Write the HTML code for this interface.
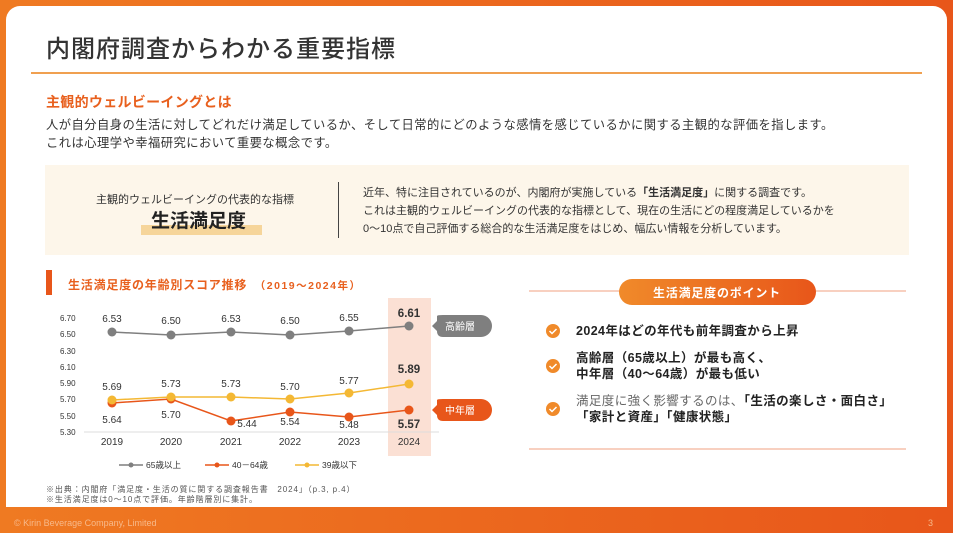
<!DOCTYPE html>
<html><head><meta charset="utf-8"><style>
*{margin:0;padding:0;box-sizing:border-box}
body{width:953px;height:533px;overflow:hidden;background:linear-gradient(90deg,#ef7a22,#e8561a);font-family:"Liberation Sans","Noto Sans CJK JP",sans-serif;position:relative}
.card{position:absolute;left:6px;top:6px;width:941px;height:501px;background:#fff;border-radius:14px 14px 0 0}
.a{position:absolute;white-space:nowrap}
</style></head><body>
<div class="card"></div>
<div class="a" style="left:46px;top:29px;font-size:24px;color:#333;font-weight:500;letter-spacing:1px">内閣府調査からわかる重要指標</div>
<div class="a" style="left:31px;top:72px;width:891px;height:2px;background:#f0a050"></div>
<div class="a" style="left:46px;top:92px;font-size:14px;color:#e8601e;font-weight:bold;letter-spacing:0.3px">主観的ウェルビーイングとは</div>
<div class="a" style="left:46px;top:116px;font-size:12.3px;color:#333;line-height:18px;letter-spacing:0.45px">人が自分自身の生活に対してどれだけ満足しているか、そして日常的にどのような感情を感じているかに関する主観的な評価を指します。<br>これは心理学や幸福研究において重要な概念です。</div>
<div class="a" style="left:45px;top:165px;width:864px;height:90px;background:#fdf6ea"></div>
<div class="a" style="left:96px;top:191px;font-size:11px;color:#333">主観的ウェルビーイングの代表的な指標</div>
<div class="a" style="left:141px;top:225px;width:121px;height:10px;background:#f6d59a"></div>
<div class="a" style="left:151px;top:206px;font-size:19px;font-weight:bold;color:#222">生活満足度</div>
<div class="a" style="left:338px;top:182px;width:1px;height:56px;background:#444"></div>
<div class="a" style="left:363px;top:184px;font-size:11px;color:#333;line-height:18px">近年、特に注目されているのが、内閣府が実施している<b>「生活満足度」</b>に関する調査です。<br>これは主観的ウェルビーイングの代表的な指標として、現在の生活にどの程度満足しているかを<br>0～10点で自己評価する総合的な生活満足度をはじめ、幅広い情報を分析しています。</div>
<div class="a" style="left:46px;top:270px;width:6px;height:25px;background:#e8561a"></div>
<div class="a" style="left:68px;top:276px;font-size:12px;color:#e8601e;font-weight:bold;letter-spacing:0.8px">生活満足度の年齢別スコア推移　<span style="font-size:10.5px;letter-spacing:1.5px">（2019～2024年）</span></div>
<svg class="a" style="left:0;top:0" width="953" height="533" font-family="Liberation Sans, Noto Sans CJK JP, sans-serif">
<rect x="388" y="298" width="43" height="158" fill="#fbe0d4"/>
<line x1="84" y1="432" x2="439" y2="432" stroke="#ddd"/>
<g font-size="8" fill="#333">
<text x="60" y="321">6.70</text><text x="60" y="337">6.50</text><text x="60" y="354">6.30</text><text x="60" y="370">6.10</text><text x="60" y="386">5.90</text><text x="60" y="402">5.70</text><text x="60" y="419">5.50</text><text x="60" y="435">5.30</text>
</g>
<g font-size="10" fill="#333" text-anchor="middle">
<text x="112" y="445">2019</text><text x="171" y="445">2020</text><text x="231" y="445">2021</text><text x="290" y="445">2022</text><text x="349" y="445">2023</text><text x="409" y="445">2024</text>
</g>
<polyline points="112,332 171,335 231,332 290,335 349,331 409,326" fill="none" stroke="#7f7f7f" stroke-width="1.5"/>
<g fill="#7f7f7f"><circle cx="112" cy="332" r="4.5"/><circle cx="171" cy="335" r="4.5"/><circle cx="231" cy="332" r="4.5"/><circle cx="290" cy="335" r="4.5"/><circle cx="349" cy="331" r="4.5"/><circle cx="409" cy="326" r="4.5"/></g>
<polyline points="112,403 171,399 231,421 290,412 349,417 409,410" fill="none" stroke="#e8561a" stroke-width="1.5"/>
<g fill="#e8561a"><circle cx="112" cy="403" r="4.5"/><circle cx="171" cy="399" r="4.5"/><circle cx="231" cy="421" r="4.5"/><circle cx="290" cy="412" r="4.5"/><circle cx="349" cy="417" r="4.5"/><circle cx="409" cy="410" r="4.5"/></g>
<polyline points="112,400 171,397 231,397 290,399 349,393 409,384" fill="none" stroke="#f4b834" stroke-width="1.5"/>
<g fill="#f4b834"><circle cx="112" cy="400" r="4.5"/><circle cx="171" cy="397" r="4.5"/><circle cx="231" cy="397" r="4.5"/><circle cx="290" cy="399" r="4.5"/><circle cx="349" cy="393" r="4.5"/><circle cx="409" cy="384" r="4.5"/></g>
<g font-size="10" fill="#333" text-anchor="middle">
<text x="112" y="322">6.53</text><text x="171" y="324">6.50</text><text x="231" y="322">6.53</text><text x="290" y="324">6.50</text><text x="349" y="321">6.55</text>
<text x="112" y="390">5.69</text><text x="171" y="387">5.73</text><text x="231" y="387">5.73</text><text x="290" y="390">5.70</text><text x="349" y="384">5.77</text>
<text x="112" y="423">5.64</text><text x="171" y="418">5.70</text><text x="247" y="427">5.44</text><text x="290" y="425">5.54</text><text x="349" y="428">5.48</text>
<g font-weight="bold" font-size="11.5"><text x="409" y="317">6.61</text><text x="409" y="373">5.89</text><text x="409" y="428">5.57</text></g>
</g>
<path d="M432,326 L437,321 L437,316 Q437,315 443,315 L481,315 A11,11 0 0 1 481,337 L443,337 Q437,337 437,331 Z" fill="#7f7f7f"/>
<text x="460" y="330" font-size="10" fill="#fff" text-anchor="middle">高齢層</text>
<path d="M432,410 L437,405 L437,400 Q437,399 443,399 L481,399 A11,11 0 0 1 481,421 L443,421 Q437,421 437,415 Z" fill="#e8561a"/>
<text x="460" y="414" font-size="10" fill="#fff" text-anchor="middle">中年層</text>
<g font-size="8.5" fill="#333">
<line x1="119" y1="465" x2="143" y2="465" stroke="#7f7f7f" stroke-width="1.5"/><circle cx="131" cy="465" r="2.5" fill="#7f7f7f"/><text x="146" y="468">65歳以上</text>
<line x1="205" y1="465" x2="229" y2="465" stroke="#e8561a" stroke-width="1.5"/><circle cx="217" cy="465" r="2.5" fill="#e8561a"/><text x="232" y="468">40－64歳</text>
<line x1="295" y1="465" x2="319" y2="465" stroke="#f4b834" stroke-width="1.5"/><circle cx="307" cy="465" r="2.5" fill="#f4b834"/><text x="322" y="468">39歳以下</text>
</g>
<g font-size="8" fill="#555" letter-spacing="0.9"><text x="46" y="492">※出典：内閣府「満足度・生活の質に関する調査報告書　2024」（p.3, p.4）</text><text x="46" y="502">※生活満足度は0～10点で評価。年齢階層別に集計。</text></g>
<line x1="529" y1="291" x2="906" y2="291" stroke="#f0a080" stroke-width="1"/>
<line x1="529" y1="449" x2="906" y2="449" stroke="#f0a080" stroke-width="1"/>
<defs><linearGradient id="g" x1="0" x2="1"><stop offset="0" stop-color="#f08a2a"/><stop offset="1" stop-color="#e8561a"/></linearGradient></defs>
<rect x="619" y="279" width="197" height="26" rx="13" fill="url(#g)"/>
<text x="717" y="297" font-size="12" fill="#fff" text-anchor="middle" font-weight="bold" letter-spacing="0.8">生活満足度のポイント</text>
<g fill="#f08a2a"><circle cx="553" cy="331" r="7"/><circle cx="553" cy="366" r="7"/><circle cx="553" cy="409" r="7"/></g>
<g fill="none" stroke="#fff" stroke-width="1.5"><path d="M549.5,331 l2.5,2.5 l4.5,-4.5"/><path d="M549.5,366 l2.5,2.5 l4.5,-4.5"/><path d="M549.5,409 l2.5,2.5 l4.5,-4.5"/></g>
<g font-size="12.5" fill="#222" font-weight="bold" letter-spacing="0.4">
<text x="576" y="335">2024年はどの年代も前年調査から上昇</text>
<text x="576" y="362">高齢層（65歳以上）が最も高く、</text>
<text x="576" y="378">中年層（40～64歳）が最も低い</text>
<text x="576" y="405"><tspan fill="#666" font-weight="normal">満足度に強く影響するのは、</tspan>「生活の楽しさ・面白さ」</text>
<text x="576" y="421">「家計と資産」「健康状態」</text>
</g>
<text x="14" y="526" font-size="9" fill="#f7b98a">© Kirin Beverage Company, Limited</text>
<text x="928" y="526" font-size="9" fill="#f7b98a">3</text>
</svg>
</body></html>
